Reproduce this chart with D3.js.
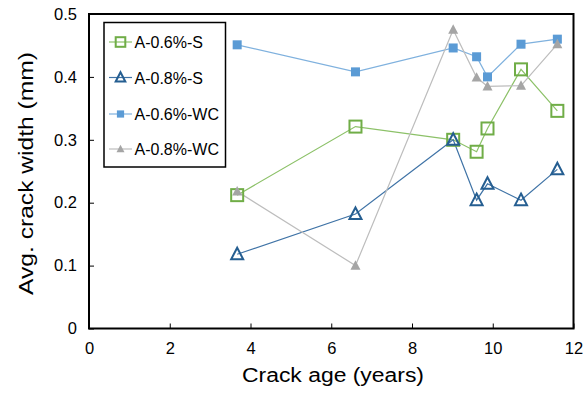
<!DOCTYPE html>
<html>
<head>
<meta charset="utf-8">
<script src="https://cdn.jsdelivr.net/npm/d3@7"></script>
<style>
  html, body { margin: 0; padding: 0; background: #fff; }
  svg { display: block; font-family: "Liberation Sans", Arial, sans-serif; }
</style>
</head>
<body>
<svg id="chart" width="586" height="393"></svg>
<script>
// Crack age (years) at each inspection
const crackAge = [3.67, 6.6, 9.02, 9.6, 9.87, 10.7, 11.6];

// Average crack width (mm) per specimen series
const s06S  = [0.212, 0.321, 0.300, 0.281, 0.318, 0.412, 0.346];
const s08S  = [0.118, 0.182, 0.300, 0.204, 0.230, 0.204, 0.253];
const s06WC = [0.451, 0.408, 0.446, 0.432, 0.400, 0.452, 0.460];
const s08WC = [0.218, 0.100, 0.475, 0.399, 0.385, 0.386, 0.452];

const seriesNames = ["A-0.6%-S", "A-0.8%-S", "A-0.6%-WC", "A-0.8%-WC"];
const xTicks = [0, 2, 4, 6, 8, 10, 12];
const yTicks = [0, 0.1, 0.2, 0.3, 0.4, 0.5];

const series = [
  { name: seriesNames[0], values: s06S,  color: "#70AD47", line: "#8CC168", shape: "square",   filled: false },
  { name: seriesNames[1], values: s08S,  color: "#255E91", line: "#3F73A6", shape: "triangle", filled: false },
  { name: seriesNames[2], values: s06WC, color: "#5B9BD5", line: "#7FB1DE", shape: "square",   filled: true  },
  { name: seriesNames[3], values: s08WC, color: "#A5A5A5", line: "#BDBDBD", shape: "triangle", filled: true  }
];

const svg = d3.select("#chart");
const plot = { left: 89, right: 573.5, top: 14, bottom: 328.5 };

const x = d3.scaleLinear().domain([0, 12]).range([plot.left, plot.right]);
const y = d3.scaleLinear().domain([0, 0.5]).range([plot.bottom, plot.top]);

// Axes with inward ticks
const xAxis = svg.append("g")
  .attr("transform", `translate(0,${plot.bottom})`)
  .call(d3.axisBottom(x).tickValues(xTicks).tickSizeInner(-5).tickSizeOuter(0).tickPadding(14).tickFormat(d3.format("d")));
const yAxis = svg.append("g")
  .attr("transform", `translate(${plot.left},0)`)
  .call(d3.axisLeft(y).tickValues(yTicks).tickSizeInner(-5).tickSizeOuter(0).tickPadding(12).tickFormat(d => d === 0 ? "0" : d3.format(".1f")(d)));

[xAxis, yAxis].forEach(g => {
  g.select(".domain").remove();
  g.selectAll(".tick line").attr("stroke", "#000").attr("stroke-width", 1);
  g.selectAll(".tick text").attr("font-size", 16.5).attr("fill", "#000")
    .attr("font-family", "'Liberation Sans', Arial, sans-serif");
});

// Plot frame
svg.append("rect")
  .attr("x", plot.left).attr("y", plot.top)
  .attr("width", plot.right - plot.left).attr("height", plot.bottom - plot.top)
  .attr("fill", "none").attr("stroke", "#000").attr("stroke-width", 2);

// Axis titles
svg.append("text")
  .attr("x", 333).attr("y", 382)
  .attr("text-anchor", "middle").attr("font-size", 20).attr("fill", "#000")
  .attr("textLength", 182).attr("lengthAdjust", "spacingAndGlyphs")
  .text("Crack age (years)");
svg.append("text")
  .attr("transform", `translate(33,173.5) rotate(-90)`)
  .attr("text-anchor", "middle").attr("font-size", 20).attr("fill", "#000")
  .attr("textLength", 243).attr("lengthAdjust", "spacingAndGlyphs")
  .text("Avg. crack width (mm)");

function drawMarker(g, s, cx, cy, scale) {
  const k = scale || 1;
  if (s.shape === "square") {
    const size = (s.filled ? 9 : 12) * k;
    g.append("rect")
      .attr("x", cx - size / 2).attr("y", cy - size / 2)
      .attr("width", size).attr("height", size)
      .attr("fill", s.filled ? s.color : "none")
      .attr("stroke", s.color)
      .attr("stroke-width", s.filled ? 0 : 2);
  } else {
    const w = (s.filled ? 10 : 12) * k, h = (s.filled ? 9 : 11) * k;
    const pts = [[cx, cy - h * 0.6], [cx + w / 2, cy + h * 0.45], [cx - w / 2, cy + h * 0.45]];
    g.append("path")
      .attr("d", d3.line()(pts) + "Z")
      .attr("fill", s.filled ? s.color : "none")
      .attr("stroke", s.color)
      .attr("stroke-width", s.filled ? 0 : 2)
      .attr("stroke-linejoin", "miter");
  }
}

const line = d3.line().x(d => x(d[0])).y(d => y(d[1]));

// Lines first, then markers on top
series.forEach(s => {
  const pts = crackAge.map((a, i) => [a, s.values[i]]);
  svg.append("path").datum(pts)
    .attr("d", line)
    .attr("fill", "none").attr("stroke", s.line).attr("stroke-width", 1.2);
});
series.forEach(s => {
  const g = svg.append("g");
  crackAge.forEach((a, i) => drawMarker(g, s, x(a), y(s.values[i])));
});

// Legend
const legend = svg.append("g");
legend.append("rect")
  .attr("x", 104).attr("y", 22.5).attr("width", 121.5).attr("height", 144.5)
  .attr("fill", "#fff").attr("stroke", "#000").attr("stroke-width", 1.5);
const legendY = [42, 77.5, 114, 149];
series.forEach((s, i) => {
  const ly = legendY[i];
  legend.append("line")
    .attr("x1", 109).attr("x2", 132).attr("y1", ly).attr("y2", ly)
    .attr("stroke", s.line).attr("stroke-width", 1.2);
  drawMarker(legend, s, 120.5, ly, 0.8);
  legend.append("text")
    .attr("x", 134.5).attr("y", ly + 6)
    .attr("font-size", 16).attr("fill", "#000")
    .text(s.name);
});
</script>
</body>
</html>
